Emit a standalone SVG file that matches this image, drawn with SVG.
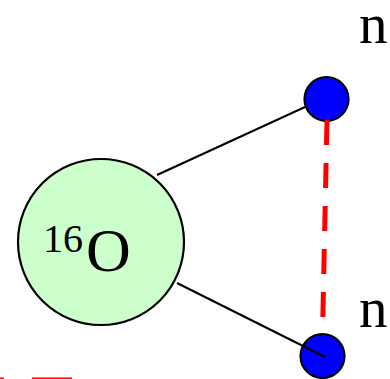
<svg xmlns="http://www.w3.org/2000/svg" width="390" height="379" viewBox="0 0 390 379">
<style>
.node{stroke:#000;stroke-width:2.2}
.bond{stroke:#000;stroke-width:2;fill:none}
.dash{stroke:#ff0000;stroke-width:5;fill:none;stroke-dasharray:25 18}
.lbl{font-family:"Liberation Serif","Times New Roman",serif;fill:#000}
</style>
<rect width="390" height="379" fill="#fff"/>
<g id="O16">
<circle class="node" cx="101" cy="242" r="83" fill="#ccffcc"/>
<text class="lbl" x="43" y="252" font-size="40">16</text>
<text class="lbl" x="86" y="271" font-size="62">O</text>
</g>
<g id="n1">
<circle class="node" cx="326.5" cy="99" r="22" fill="#0000ff"/>
<text class="lbl" x="359" y="43" font-size="57">n</text>
</g>
<g id="n2">
<circle class="node" cx="322.5" cy="356" r="22" fill="#0000ff"/>
<text class="lbl" x="359" y="327" font-size="57">n</text>
</g>
<g id="connectors">
<line class="bond" x1="157" y1="175" x2="305" y2="107"/>
<line class="bond" x1="177" y1="283" x2="325" y2="357"/>
<line class="dash" x1="327" y1="120" x2="322.5" y2="334"/>
<path d="M-10 380H4M32 380H72" stroke="#ff0000" stroke-width="5" fill="none"/>
</g>
</svg>
